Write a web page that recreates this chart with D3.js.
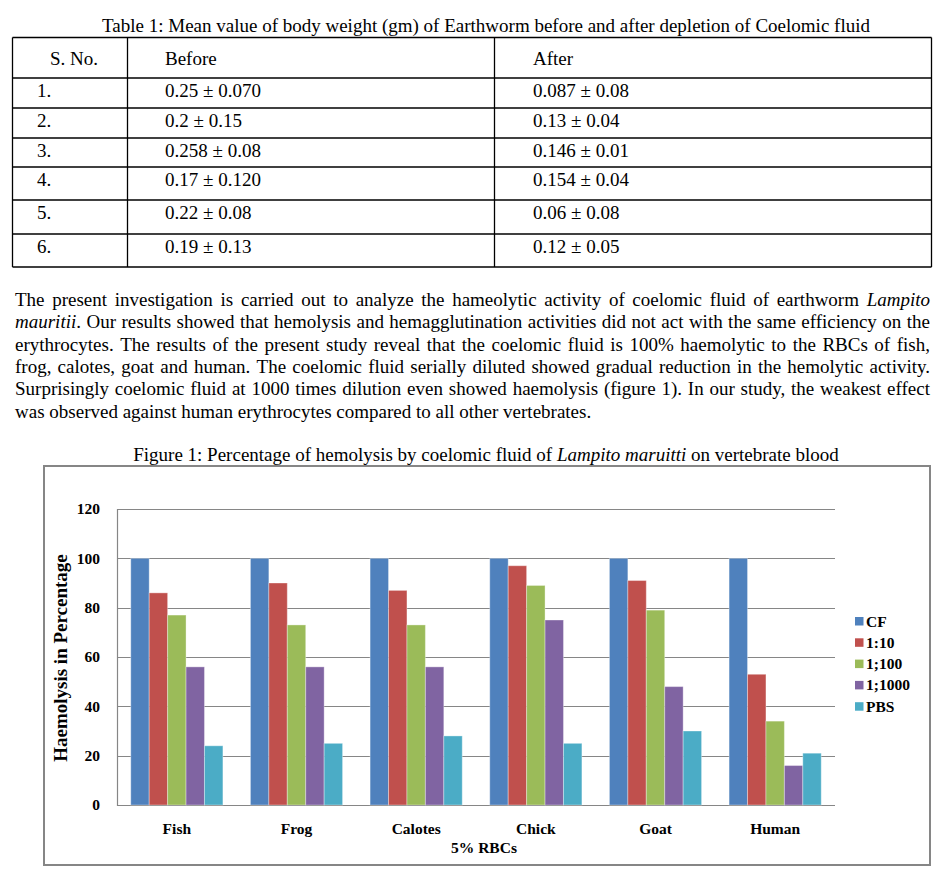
<!DOCTYPE html>
<html>
<head>
<meta charset="utf-8">
<script src="https://cdnjs.cloudflare.com/ajax/libs/d3/7.8.5/d3.min.js"></script>
<style>
  body { margin: 0; background: #fff; }
  svg { display: block; }
  text { font-family: "Liberation Serif", "Times New Roman", serif; fill: #000; }
</style>
</head>
<body>
<svg id="page" width="946" height="894"></svg>
<script>
// ---- table data ----
const tableTitle = "Table 1: Mean value of body weight (gm) of Earthworm before and after depletion of Coelomic fluid";
const tableHeaders = ["S. No.", "Before", "After"];
const serialNo = ["1.", "2.", "3.", "4.", "5.", "6."];
const beforeVals = ["0.25 ± 0.070", "0.2 ± 0.15", "0.258 ± 0.08", "0.17 ± 0.120", "0.22 ± 0.08", "0.19 ± 0.13"];
const afterVals = ["0.087 ± 0.08", "0.13 ± 0.04", "0.146 ± 0.01", "0.154 ± 0.04", "0.06 ± 0.08", "0.12 ± 0.05"];

// ---- paragraph (*...* = italic) ----
const paraLines = [
  "The present investigation is carried out to analyze the hameolytic activity of coelomic fluid of earthworm *Lampito*",
  "*mauritii*.  Our results showed that hemolysis and hemagglutination activities did not act with the same efficiency on the",
  "erythrocytes. The results of the present study reveal that the coelomic fluid is 100% haemolytic to the RBCs of fish,",
  "frog, calotes, goat and human. The coelomic fluid serially diluted showed gradual reduction in the hemolytic activity.",
  "Surprisingly coelomic fluid at 1000 times dilution even showed haemolysis (figure 1). In our study, the weakest effect",
  "was observed against human erythrocytes compared to all other vertebrates."
];

// ---- chart data ----
const figTitle = "Figure 1: Percentage of hemolysis by coelomic fluid of *Lampito maruitti* on vertebrate blood";
const categories = ["Fish", "Frog", "Calotes", "Chick", "Goat", "Human"];
const seriesNames = ["CF", "1:10", "1;100", "1;1000", "PBS"];
const cfVals    = [100, 100, 100, 100, 100, 100];
const dil10     = [86, 90, 87, 97, 91, 53];
const dil100    = [77, 73, 73, 89, 79, 34];
const dil1000   = [56, 56, 56, 75, 48, 16];
const pbsVals   = [24, 25, 28, 25, 30, 21];
const yTicks = [0, 20, 40, 60, 80, 100, 120];
const xTitle = "5% RBCs";
const yTitle = "Haemolysis in Percentage";
const colors = ["#4f81bd", "#c0504d", "#9bbb59", "#8064a2", "#4bacc6"];

const seriesVals = [cfVals, dil10, dil100, dil1000, pbsVals];

const svg = d3.select("#page");
svg.append("rect").attr("width", 946).attr("height", 894).attr("fill", "#fff");

// rich text helper: writes "*italic*" segments as tspans
function richText(sel, str) {
  str.split("*").forEach((part, i) => {
    if (part === "") return;
    sel.append("tspan").attr("font-style", i % 2 ? "italic" : "normal").text(part);
  });
  return sel;
}

// ---- table ----
const bodySize = 19;
svg.append("text").attr("x", 486).attr("y", 32).attr("text-anchor", "middle")
  .attr("font-size", bodySize).text(tableTitle);

const colX = [12.5, 127.5, 494.5, 931.5];
const rowY = [37.5, 78, 108, 138, 167, 200, 234, 267];
const tbl = svg.append("g").attr("stroke", "#000").attr("stroke-width", 1.3);
rowY.forEach(y => tbl.append("line").attr("x1", colX[0]).attr("x2", colX[3]).attr("y1", y).attr("y2", y));
colX.forEach(x => tbl.append("line").attr("x1", x).attr("x2", x).attr("y1", rowY[0]).attr("y2", rowY[rowY.length - 1]));

const headX = [50, 165, 533];
tableHeaders.forEach((h, i) => {
  svg.append("text").attr("x", headX[i]).attr("y", 65).attr("font-size", bodySize).text(h);
});
serialNo.forEach((s, r) => {
  const base = rowY[r + 1] + 18.5;
  [s, beforeVals[r], afterVals[r]].forEach((v, c) => {
    svg.append("text").attr("x", c === 0 ? 37 : headX[c]).attr("y", base)
      .attr("font-size", bodySize).text(v);
  });
});

// ---- justified paragraph ----
const paraLeft = 15, paraRight = 930, paraTop = 306, lineH = 22.3;
paraLines.forEach((line, li) => {
  const y = paraTop + li * lineH;
  let italicOn = false;
  const words = line.split(/ +/).map(w => {
    // keep italic state across words
    const parts = [];
    w.split("*").forEach((p, k) => {
      if (k > 0) italicOn = !italicOn;
      if (p !== "") parts.push({ t: p, it: italicOn });
    });
    return parts;
  });
  const nodes = words.map(parts => {
    const t = svg.append("text").attr("y", y).attr("font-size", bodySize);
    parts.forEach(p => t.append("tspan").attr("font-style", p.it ? "italic" : "normal").text(p.t));
    return t;
  });
  const widths = nodes.map(n => n.node().getComputedTextLength());
  const total = d3.sum(widths);
  const last = li === paraLines.length - 1;
  const gap = last ? bodySize * 0.25 : (paraRight - paraLeft - total) / (nodes.length - 1);
  let x = paraLeft;
  nodes.forEach((n, i) => { n.attr("x", x); x += widths[i] + gap; });
});

// ---- figure ----
richText(svg.append("text").attr("x", 486).attr("y", 461).attr("text-anchor", "middle")
  .attr("font-size", bodySize), figTitle);

svg.append("rect").attr("x", 44).attr("y", 466).attr("width", 886).attr("height", 399)
  .attr("fill", "#fff").attr("stroke", "#868686").attr("stroke-width", 2);

const plotL = 117, plotR = 835, plotT = 509, plotB = 805;
const x = d3.scaleBand().domain(categories).range([plotL, plotR]).paddingInner(0.23).paddingOuter(0.115);
const xs = d3.scaleBand().domain(seriesNames).range([0, x.bandwidth()]);
const y = d3.scaleLinear().domain([0, 120]).range([plotB, plotT]);

// gridlines
svg.append("g").selectAll("line").data(yTicks).join("line")
  .attr("x1", plotL).attr("x2", plotR)
  .attr("y1", d => Math.round(y(d)) + 0.5).attr("y2", d => Math.round(y(d)) + 0.5)
  .attr("stroke", "#868686").attr("stroke-width", 1.2);
svg.append("line").attr("x1", plotL + 0.5).attr("x2", plotL + 0.5).attr("y1", plotT).attr("y2", plotB + 1)
  .attr("stroke", "#868686").attr("stroke-width", 1.2);

// bars
const barData = [];
categories.forEach((c, ci) => seriesNames.forEach((s, si) => barData.push({ c, s, si, v: seriesVals[si][ci] })));
svg.append("g").selectAll("rect").data(barData).join("rect")
  .attr("x", d => x(d.c) + xs(d.s))
  .attr("width", xs.bandwidth())
  .attr("y", d => y(d.v))
  .attr("height", d => y(0) - y(d.v))
  .attr("fill", d => colors[d.si])
  .attr("stroke", "rgba(255,255,255,0.35)").attr("stroke-width", 1);

const labelSize = 15.5;
const serif = '"Liberation Serif", "Times New Roman", serif';

// y axis
const yAxis = d3.axisLeft(y).tickValues(yTicks).tickSize(0).tickPadding(17);
const ya = svg.append("g").attr("transform", `translate(${plotL},0)`).call(yAxis);
ya.select(".domain").remove();
ya.selectAll("text").attr("font-size", labelSize).attr("font-weight", "bold")
  .attr("font-family", serif).attr("fill", "#000");

// x axis labels
const xAxis = d3.axisBottom(x).tickSize(0).tickPadding(18);
const xa = svg.append("g").attr("transform", `translate(0,${plotB})`).call(xAxis);
xa.select(".domain").remove();
xa.selectAll("text").attr("font-size", labelSize).attr("font-weight", "bold")
  .attr("font-family", serif).attr("fill", "#000");

svg.append("text").attr("x", 484).attr("y", 853).attr("text-anchor", "middle")
  .attr("font-size", labelSize).attr("font-weight", "bold").text(xTitle);
svg.append("text").attr("transform", "translate(67,658) rotate(-90)").attr("text-anchor", "middle")
  .attr("font-size", 19).attr("font-weight", "bold").text(yTitle);

// legend
const leg = svg.append("g").selectAll("g").data(seriesNames).join("g")
  .attr("transform", (d, i) => `translate(855,${621 + i * 21.3})`);
leg.append("rect").attr("x", 0).attr("y", -4).attr("width", 8.5).attr("height", 8.5)
  .attr("fill", (d, i) => colors[i]);
leg.append("text").attr("x", 11).attr("y", 5.5).attr("font-size", labelSize).attr("font-weight", "bold").text(d => d);
</script>
</body>
</html>
